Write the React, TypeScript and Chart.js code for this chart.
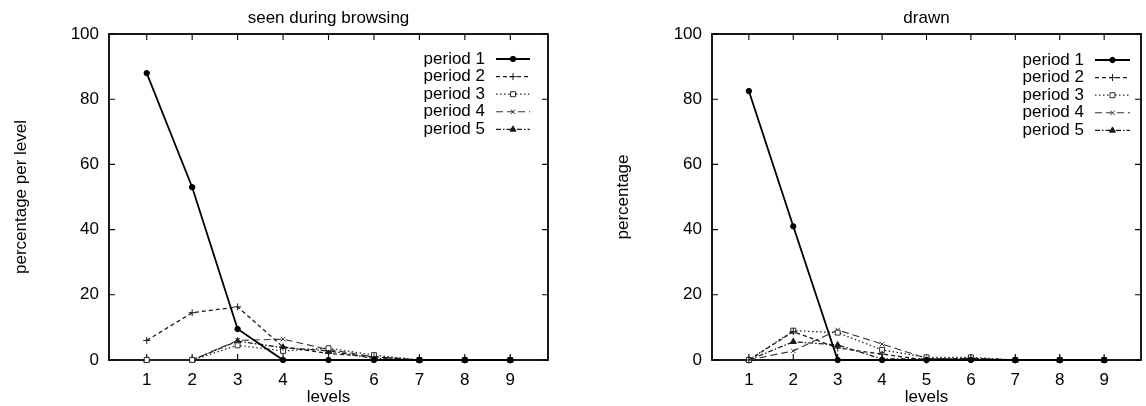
import React, { useEffect, useRef } from "react";
import { Chart, registerables } from "chart.js";
import { drawPoint } from "chart.js/helpers";

Chart.register(...registerables);

// ---------- data ----------
const levels = [1, 2, 3, 4, 5, 6, 7, 8, 9];
const yTickValues = [0, 20, 40, 60, 80, 100];
const periodNames = ["period 1", "period 2", "period 3", "period 4", "period 5"];

const seenP1 = [88, 53, 9.5, 0, 0, 0, 0, 0, 0];
const seenP2 = [6, 14.5, 16.3, 4, 2, 1, 0, 0, 0];
const seenP3 = [0, 0, 4.5, 2.8, 3.6, 1.5, 0, 0, 0];
const seenP4 = [0, 0, 6, 6.4, 3.2, 1, 0, 0, 0];
const seenP5 = [0, 0, 5.8, 3.8, 2.8, 0.5, 0, 0, 0];

const drawnP1 = [82.5, 41, 0, 0, 0, 0, 0, 0, 0];
const drawnP2 = [0, 8.7, 3.7, 1.8, 0, 0.5, 0, 0, 0];
const drawnP3 = [0, 9, 8.4, 3.1, 0.8, 0.8, 0, 0, 0];
const drawnP4 = [0, 2.8, 9.2, 4.9, 0.5, 0.3, 0, 0, 0];
const drawnP5 = [0, 5.6, 4.6, 0.3, 0.3, 0.5, 0, 0, 0];

// ---------- styles ----------
const FONT = "'Liberation Sans', Arial, Helvetica, sans-serif";
const FONT_SIZE = 17;
const INK = "#000";

const periodStyles = [
  { dash: [] as number[], width: 1.8, point: "circle", radius: 2.7, color: "#000", fill: "#000" },
  { dash: [4, 3], width: 1.3, point: "cross", radius: 3.5, color: "#1a1a1a", fill: "#1a1a1a" },
  { dash: [1.5, 2.5], width: 1.3, point: "rect", radius: 3.5, color: "#2a2a2a", fill: "#fff" },
  { dash: [7, 4], width: 1.1, point: "crossRot", radius: 3.2, color: "#333", fill: "#333" },
  { dash: [5, 2, 1.5, 2], width: 1.3, point: "triangle", radius: 3.5, color: "#1a1a1a", fill: "#1a1a1a" },
];

type PanelCfg = {
  title: string;
  yTitle: string;
  series: number[][];
  yAxisWidth: number;
  yTitlePad: number;
  padRight: number;
  legendTextOff: number;
  legendLineA: number;
  legendLineB: number;
  legendTop: number;
};

const panels: PanelCfg[] = [
  {
    title: "seen during browsing",
    yTitle: "percentage per level",
    series: [seenP1, seenP2, seenP3, seenP4, seenP5],
    yAxisWidth: 109,
    yTitlePad: 10.8,
    padRight: 25,
    legendTextOff: 63,
    legendLineA: 52,
    legendLineB: 18,
    legendTop: 59,
  },
  {
    title: "drawn",
    yTitle: "percentage",
    series: [drawnP1, drawnP2, drawnP3, drawnP4, drawnP5],
    yAxisWidth: 139,
    yTitlePad: 40.3,
    padRight: 1,
    legendTextOff: 57,
    legendLineA: 46,
    legendLineB: 11,
    legendTop: 60,
  },
];

const framePlugin = {
  id: "gnuFrame",
  beforeDatasetsDraw(chart: any) {
    const { ctx, chartArea: a, scales } = chart;
    ctx.save();
    ctx.strokeStyle = INK;
    ctx.lineWidth = 1.8;
    ctx.strokeRect(a.left, a.top, a.right - a.left, a.bottom - a.top);
    ctx.lineWidth = 1.1;
    const tl = 6;
    ctx.beginPath();
    scales.x.ticks.forEach((t: any) => {
      const px = scales.x.getPixelForValue(t.value);
      ctx.moveTo(px, a.bottom);
      ctx.lineTo(px, a.bottom - tl);
      ctx.moveTo(px, a.top);
      ctx.lineTo(px, a.top + tl);
    });
    scales.y.ticks.forEach((t: any) => {
      const py = scales.y.getPixelForValue(t.value);
      ctx.moveTo(a.left, py);
      ctx.lineTo(a.left + tl, py);
      ctx.moveTo(a.right, py);
      ctx.lineTo(a.right - tl, py);
    });
    ctx.stroke();
    ctx.restore();
  },
};

function makeLegendPlugin(cfg: PanelCfg) {
  return {
    id: "gnuLegend",
    afterDatasetsDraw(chart: any) {
      const { ctx, chartArea: a } = chart;
      ctx.save();
      ctx.font = `${FONT_SIZE}px ${FONT}`;
      ctx.textAlign = "right";
      ctx.textBaseline = "middle";
      chart.data.datasets.forEach((ds: any, i: number) => {
        const y = cfg.legendTop + i * 17.6;
        ctx.fillStyle = INK;
        ctx.fillText(ds.label, a.right - cfg.legendTextOff, y);
        const x1 = a.right - cfg.legendLineA;
        const x2 = a.right - cfg.legendLineB;
        ctx.strokeStyle = ds.borderColor;
        ctx.lineWidth = ds.borderWidth;
        ctx.setLineDash(ds.borderDash || []);
        ctx.beginPath();
        ctx.moveTo(x1, y);
        ctx.lineTo(x2, y);
        ctx.stroke();
        ctx.setLineDash([]);
        ctx.fillStyle = ds.pointBackgroundColor;
        ctx.strokeStyle = ds.pointBorderColor;
        ctx.lineWidth = 1;
        drawPoint(
          ctx,
          { pointStyle: ds.pointStyle, rotation: 0, radius: ds.pointRadius, borderWidth: 1 },
          (x1 + x2) / 2,
          y
        );
      });
      ctx.restore();
    },
  };
}

function Panel({ cfg, left }: { cfg: PanelCfg; left: number }) {
  const ref = useRef<HTMLCanvasElement>(null);
  useEffect(() => {
    if (!ref.current) return;
    const font = { family: FONT, size: FONT_SIZE, weight: "normal" as const };
    const chart = new Chart(ref.current, {
      type: "line",
      data: {
        datasets: cfg.series.map((vals, i) => {
          const st = periodStyles[i];
          return {
            label: periodNames[i],
            data: levels.map((x, j) => ({ x, y: vals[j] })),
            borderColor: st.color,
            backgroundColor: st.fill,
            borderWidth: st.width,
            borderDash: st.dash,
            pointStyle: st.point as any,
            pointRadius: st.radius,
            pointBorderColor: st.color,
            pointBackgroundColor: st.fill,
            pointBorderWidth: 1,
            tension: 0,
            fill: false,
            clip: false as any,
          };
        }),
      },
      options: {
        responsive: false,
        animation: false,
        devicePixelRatio: 1,
        layout: { padding: { left: 0, right: cfg.padRight, top: 0, bottom: 0 } },
        plugins: {
          legend: { display: false },
          tooltip: { enabled: false },
          title: {
            display: true,
            text: cfg.title,
            color: INK,
            font,
            fullSize: false,
            padding: { top: 7.8, bottom: 5.8 },
          },
        },
        scales: {
          x: {
            type: "linear",
            min: 0.17,
            max: 9.83,
            afterBuildTicks: (s: any) => {
              s.ticks = levels.map((v) => ({ value: v }));
            },
            afterFit: (s: any) => {
              s.height = 46;
            },
            ticks: {
              color: INK,
              font,
              padding: 10,
              autoSkip: false,
              maxRotation: 0,
              callback: (v: any) => String(v),
            },
            grid: { display: false, drawTicks: false },
            border: { display: false },
            title: {
              display: true,
              text: "levels",
              color: INK,
              font: { ...font, lineHeight: 1 },
              padding: { top: 0, bottom: 0.5 },
            },
          },
          y: {
            type: "linear",
            min: 0,
            max: 100,
            afterBuildTicks: (s: any) => {
              s.ticks = yTickValues.map((v) => ({ value: v }));
            },
            afterFit: (s: any) => {
              s.width = cfg.yAxisWidth;
            },
            ticks: { color: INK, font, padding: 10, callback: (v: any) => String(v) },
            grid: { display: false, drawTicks: false },
            border: { display: false },
            title: {
              display: true,
              text: cfg.yTitle,
              color: INK,
              font,
              padding: { top: cfg.yTitlePad, bottom: 0 },
            },
          },
        },
      },
      plugins: [framePlugin, makeLegendPlugin(cfg)],
    } as any);
    return () => chart.destroy();
  }, [cfg]);
  return (
    <canvas
      ref={ref}
      width={573}
      height={406}
      style={{ position: "absolute", left, top: 0, width: 573, height: 406 }}
    />
  );
}

export default function App() {
  return (
    <div
      style={{
        position: "fixed",
        left: 0,
        top: 0,
        width: 1146,
        height: 406,
        background: "#fff",
        overflow: "hidden",
      }}
    >
      <Panel cfg={panels[0]} left={0} />
      <Panel cfg={panels[1]} left={573} />
    </div>
  );
}
